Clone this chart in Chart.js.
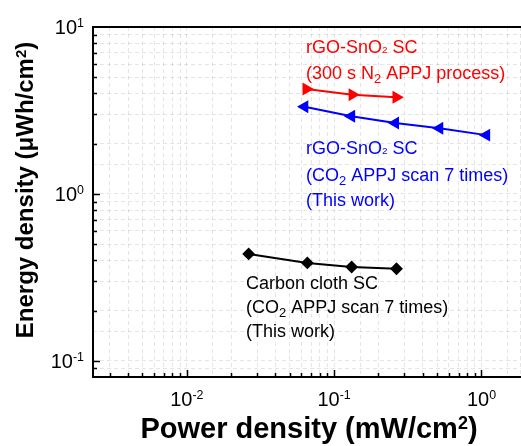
<!DOCTYPE html>
<html>
<head>
<meta charset="utf-8">
<script src="https://cdn.jsdelivr.net/npm/chart.js@4.4.0/dist/chart.umd.min.js"></script>
<style>
  html, body { margin: 0; padding: 0; background: #fff; overflow: hidden; }
  canvas { display: block; }
</style>
</head>
<body>
<canvas id="ragone" width="528" height="446"></canvas>
<script>
// Ragone plot: power density (mW/cm²) vs energy density (µWh/cm²)
const redPower = [0.0647, 0.133, 0.264];
const redEnergy = [4.25, 3.93, 3.79];
const bluePower = [0.063, 0.131, 0.260, 0.519, 1.08];
const blueEnergy = [3.33, 2.92, 2.66, 2.47, 2.25];
const blackPower = [0.0263, 0.0658, 0.1315, 0.265];
const blackEnergy = [0.437, 0.386, 0.365, 0.356];

// decade tick labels, drawn as 10^exp
const xTickValues = [0.01, 0.1, 1];
const xTickExps = ['-2', '-1', '0'];
const yTickValues = [0.1, 1, 10];
const yTickExps = ['-1', '0', '1'];

const FONT = '"Liberation Sans", Arial, sans-serif';

function toPoints(xs, ys) {
    return xs.map((v, i) => ({ x: v, y: ys[i] }));
}

// rich text: parts are [text, kind], kind = '' | 'sub' | 'small' | 'sup'
function richWidth(ctx, parts, size, weight) {
    let w = 0;
    parts.forEach(([t, kind]) => {
        const s = kind === 'sub' ? size * 0.72 : kind === 'small' ? size * 0.55 : kind === 'sup' ? size * 0.62 : size;
        ctx.font = `${weight} ${s}px ${FONT}`;
        w += ctx.measureText(t).width;
    });
    return w;
}

function drawRich(ctx, parts, x, y, size, color, opts = {}) {
    const weight = opts.weight || 'normal';
    const align = opts.align || 'left';
    const total = richWidth(ctx, parts, size, weight);
    let cx = align === 'center' ? x - total / 2 : align === 'right' ? x - total : x;
    ctx.fillStyle = color;
    ctx.textAlign = 'left';
    ctx.textBaseline = 'alphabetic';
    parts.forEach(([t, kind]) => {
        let s = size, dy = 0;
        if (kind === 'sub') { s = size * 0.72; dy = size * 0.22; }
        if (kind === 'small') { s = size * 0.55; }
        if (kind === 'sup') { s = size * 0.62; dy = -size * (opts.supRaise || 0.36); }
        ctx.font = `${weight} ${s}px ${FONT}`;
        ctx.fillText(t, cx, y + dy);
        cx += ctx.measureText(t).width;
    });
}

function isRound(v) {
    const m = v / Math.pow(10, Math.floor(Math.log10(v) + 1e-9));
    return Math.abs(m - Math.round(m)) < 1e-6;
}

// frame, inward tick marks, tick labels and axis titles
const axesPlugin = {
    id: 'axesFrame',
    afterDatasetsDraw(chart) {
        const { ctx, chartArea: a, scales: { x, y } } = chart;
        ctx.save();

        ctx.strokeStyle = '#000';
        ctx.lineWidth = 1.5;
        x.ticks.forEach(t => {
            if (!isRound(t.value)) return;
            const px = Math.round(x.getPixelForValue(t.value)) + 0.5;
            if (px <= a.left + 1 || px >= a.right) return;
            const len = t.major ? 7 : 4;
            ctx.beginPath();
            ctx.moveTo(px, a.bottom);
            ctx.lineTo(px, a.bottom - len);
            ctx.stroke();
        });
        y.ticks.forEach(t => {
            if (!isRound(t.value)) return;
            const py = Math.round(y.getPixelForValue(t.value)) + 0.5;
            if (py >= a.bottom - 1 || py <= a.top + 1) return;
            const len = t.major ? 7 : 4;
            ctx.beginPath();
            ctx.moveTo(a.left, py);
            ctx.lineTo(a.left + len, py);
            ctx.stroke();
        });

        ctx.lineWidth = 2;
        ctx.beginPath();
        ctx.moveTo(chart.width, a.top);
        ctx.lineTo(a.left, a.top);
        ctx.lineTo(a.left, a.bottom);
        ctx.lineTo(chart.width, a.bottom);
        ctx.stroke();

        xTickValues.forEach((v, i) => {
            const px = x.getPixelForValue(v);
            drawRich(ctx, [['10', ''], [xTickExps[i], 'sup']], px, a.bottom + 29, 20, '#000', { align: 'center' });
        });
        yTickValues.forEach((v, i) => {
            const py = y.getPixelForValue(v);
            drawRich(ctx, [['10', ''], [yTickExps[i], 'sup']], a.left - 9, py + 7, 20, '#000', { align: 'right' });
        });

        drawRich(ctx, [['Power density (mW/cm', ''], ['2', 'sup'], [')', '']], 309, 438, 29, '#000',
            { align: 'center', weight: 'bold', supRaise: 0.3 });

        ctx.save();
        ctx.translate(33, 190);
        ctx.rotate(-Math.PI / 2);
        drawRich(ctx, [['Energy density (\u03bcWh/cm', ''], ['2', 'sup'], [')', '']], 0, 0, 24, '#000',
            { align: 'center', weight: 'bold', supRaise: 0.3 });
        ctx.restore();

        ctx.restore();
    }
};

// sample descriptions next to each curve
const labelPlugin = {
    id: 'curveLabels',
    afterDraw(chart) {
        const ctx = chart.ctx;
        ctx.save();
        drawRich(ctx, [['rGO-SnO', ''], ['2', 'small'], [' SC', '']], 306, 53, 18, '#ff0000');
        drawRich(ctx, [['(300 s N', ''], ['2', 'sub'], [' APPJ process)', '']], 306, 79, 18, '#ff0000');

        drawRich(ctx, [['rGO-SnO', ''], ['2', 'small'], [' SC', '']], 306, 154, 18, '#0000ff');
        drawRich(ctx, [['(CO', ''], ['2', 'sub'], [' APPJ scan 7 times)', '']], 306, 181, 18, '#0000ff');
        drawRich(ctx, [['(This work)', '']], 306, 206, 18, '#0000ff');

        drawRich(ctx, [['Carbon cloth SC', '']], 246, 289, 18, '#000');
        drawRich(ctx, [['(CO', ''], ['2', 'sub'], [' APPJ scan 7 times)', '']], 246, 313, 18, '#000');
        drawRich(ctx, [['(This work)', '']], 246, 337, 18, '#000');
        ctx.restore();
    }
};

const whiteBg = {
    id: 'whiteBg',
    beforeDraw(chart) {
        const ctx = chart.ctx;
        ctx.save();
        ctx.fillStyle = '#fff';
        ctx.fillRect(0, 0, chart.width, chart.height);
        ctx.restore();
    }
};

const gridOpts = { color: 'rgba(0,0,0,0.1)', lineWidth: 1, drawTicks: false };
const borderOpts = { display: false, dash: [4, 3] };

new Chart(document.getElementById('ragone'), {
    type: 'line',
    data: {
        datasets: [
            {
                data: toPoints(redPower, redEnergy),
                borderColor: '#ff0000',
                backgroundColor: '#ff0000',
                borderWidth: 2,
                pointStyle: 'triangle',
                pointRotation: 90,
                pointRadius: 5.5
            },
            {
                data: toPoints(bluePower, blueEnergy),
                borderColor: '#0000ff',
                backgroundColor: '#0000ff',
                borderWidth: 2,
                pointStyle: 'triangle',
                pointRotation: -90,
                pointRadius: 5.5
            },
            {
                data: toPoints(blackPower, blackEnergy),
                borderColor: '#000',
                backgroundColor: '#000',
                borderWidth: 2,
                pointStyle: 'rectRot',
                pointRadius: 5
            }
        ]
    },
    options: {
        responsive: false,
        animation: false,
        devicePixelRatio: 1,
        layout: { padding: { left: 93, top: 27, right: 0, bottom: 69 } },
        plugins: { legend: { display: false }, tooltip: { enabled: false } },
        elements: { line: { tension: 0 } },
        scales: {
            x: {
                type: 'logarithmic',
                min: 0.00231,
                max: 1.84,
                ticks: { display: false },
                grid: gridOpts,
                border: borderOpts
            },
            y: {
                type: 'logarithmic',
                min: 0.08,
                max: 10,
                ticks: { display: false },
                grid: gridOpts,
                border: borderOpts
            }
        }
    },
    plugins: [whiteBg, axesPlugin, labelPlugin]
});
</script>
</body>
</html>
